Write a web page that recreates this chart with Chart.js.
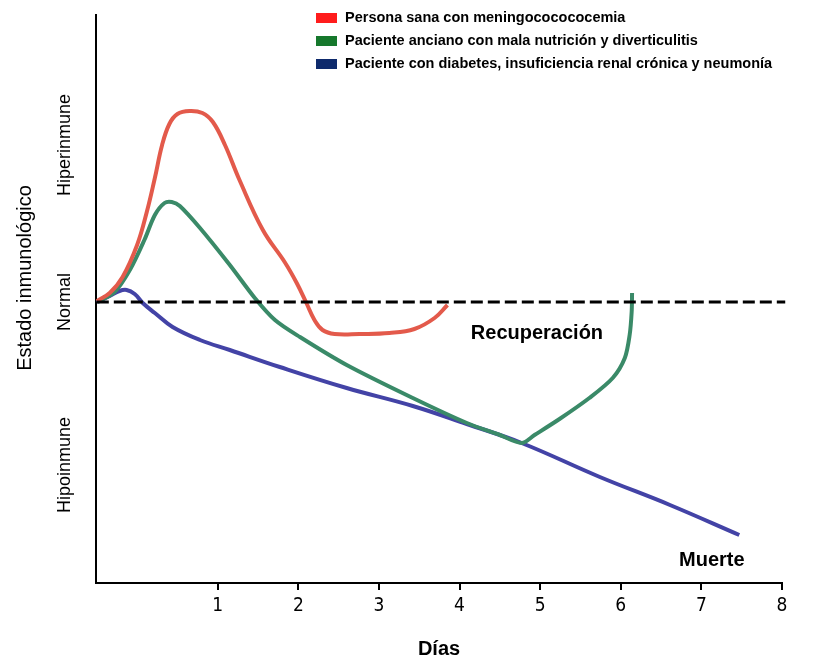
<!DOCTYPE html>
<html lang="es">
<head>
<meta charset="UTF-8">
<title>Estado inmunológico</title>
<script src="https://cdn.jsdelivr.net/npm/chart.js"></script>
<style>
  html, body { margin: 0; padding: 0; background: #fff; }
</style>
</head>
<body>
<canvas id="chart" width="814" height="669"></canvas>
<script>
// dias (x) y estado inmunologico (y, 0 = normal)
const redX = [-0.50, -0.34, -0.18, 0.00, 0.12, 0.22, 0.31, 0.40, 0.50, 0.65, 0.81, 0.94, 1.09, 1.27, 1.56, 1.83, 1.98, 2.10, 2.20, 2.30, 2.45, 2.76, 3.13, 3.44, 3.69, 3.85];
const redY = [0.01, 0.09, 0.25, 0.57, 0.90, 1.24, 1.57, 1.78, 1.88, 1.91, 1.89, 1.80, 1.57, 1.22, 0.72, 0.40, 0.19, -0.01, -0.18, -0.28, -0.32, -0.32, -0.31, -0.27, -0.16, -0.03];

const greenX = [-0.49, -0.28, -0.09, 0.09, 0.22, 0.34, 0.43, 0.53, 0.78, 1.15, 1.46, 1.71, 2.02, 2.60, 3.42, 4.09, 4.50, 4.77, 4.93, 5.24, 5.61, 5.90, 6.05, 6.11, 6.135, 6.14];
const greenY = [0.00, 0.10, 0.32, 0.62, 0.87, 0.99, 1.00, 0.96, 0.74, 0.37, 0.04, -0.18, -0.35, -0.63, -0.96, -1.21, -1.33, -1.41, -1.33, -1.17, -0.96, -0.76, -0.56, -0.33, -0.10, 0.09];

const blueX = [-0.50, -0.34, -0.22, -0.13, -0.03, 0.07, 0.22, 0.44, 0.78, 1.15, 1.77, 2.60, 3.42, 4.09, 4.77, 5.74, 6.61, 7.47];
const blueY = [0.00, 0.06, 0.11, 0.12, 0.08, -0.01, -0.11, -0.25, -0.38, -0.48, -0.65, -0.86, -1.04, -1.22, -1.41, -1.75, -2.03, -2.33];

const normalX = [-0.50, 8.04];
const normalY = [0, 0];

const seriesLabels = [
  'Persona sana con meningococococemia',
  'Paciente anciano con mala nutrición y diverticulitis',
  'Paciente con diabetes, insuficiencia renal crónica y neumonía'
];
const lineColors = ['#e35a4b', '#3a8a68', '#4343a6'];
const legendColors = ['#ff1c1c', '#16782c', '#0e2a6c'];
const lineTension = [0.4, 0.3, 0.4];

const xTicks = [1, 2, 3, 4, 5, 6, 7, 8];
const levelValues = [1.57, 0, -1.63];
const levelLabels = ['Hiperinmune', 'Normal', 'Hipoinmune'];

const noteTexts = ['Recuperación', 'Muerte'];
const noteX = [4.96, 7.13];
const noteY = [-0.31, -2.58];

const pts = (xs, ys) => xs.map((x, i) => ({ x: x, y: ys[i] }));

function curve(i, xs, ys) {
  return {
    label: seriesLabels[i],
    data: pts(xs, ys),
    borderColor: lineColors[i],
    borderWidth: 4,
    pointRadius: 0,
    tension: lineTension[i],
    fill: false,
    order: i + 1
  };
}

const textos = {
  id: 'textos',
  afterDraw(chart) {
    const ctx = chart.ctx;
    const x = chart.scales.x, y = chart.scales.y;
    ctx.save();
    ctx.fillStyle = '#000';
    ctx.textAlign = 'center';
    ctx.textBaseline = 'middle';

    // niveles del eje y
    ctx.font = '18px "Liberation Sans", Arial, sans-serif';
    levelLabels.forEach((t, i) => {
      ctx.save();
      ctx.translate(65, y.getPixelForValue(levelValues[i]));
      ctx.rotate(-Math.PI / 2);
      ctx.fillText(t, 0, 0);
      ctx.restore();
    });
    ctx.font = '20px "Liberation Sans", Arial, sans-serif';
    ctx.save();
    ctx.translate(25, 278);
    ctx.rotate(-Math.PI / 2);
    ctx.fillText('Estado inmunológico', 0, 0);
    ctx.restore();

    // Recuperacion / Muerte
    ctx.font = 'bold 20px "Liberation Sans", Arial, sans-serif';
    noteTexts.forEach((t, i) => {
      ctx.fillText(t, x.getPixelForValue(noteX[i]), y.getPixelForValue(noteY[i]));
    });

    // leyenda
    ctx.font = 'bold 14.5px "Liberation Sans", Arial, sans-serif';
    ctx.textAlign = 'left';
    seriesLabels.forEach((t, i) => {
      const rowY = 18 + 23 * i;
      ctx.fillStyle = legendColors[i];
      ctx.fillRect(316, rowY - 5, 21, 10);
      ctx.fillStyle = '#000';
      ctx.fillText(t, 345, rowY);
    });
    ctx.restore();
  }
};

new Chart(document.getElementById('chart'), {
  type: 'line',
  data: {
    datasets: [
      {
        label: 'Normal',
        data: pts(normalX, normalY),
        borderColor: '#000',
        borderWidth: 3,
        borderDash: [12, 5],
        pointRadius: 0,
        fill: false,
        clip: false,
        order: 0
      },
      curve(0, redX, redY),
      curve(1, greenX, greenY),
      curve(2, blueX, blueY)
    ]
  },
  options: {
    responsive: false,
    animation: false,
    layout: { padding: { top: 15, right: 32, left: 0, bottom: 0 } },
    plugins: { legend: { display: false }, tooltip: { enabled: false } },
    scales: {
      x: {
        type: 'linear',
        min: -0.51,
        max: 8,
        afterBuildTicks: s => { s.ticks = xTicks.map(v => ({ value: v })); },
        afterFit: s => { s.height = 86; },
        grid: { drawOnChartArea: false, drawTicks: true, tickLength: 7, color: '#000', lineWidth: 2 },
        border: { color: '#000', width: 2 },
        ticks: {
          color: '#000',
          autoSkip: false,
          maxRotation: 0,
          padding: 5,
          font: { family: '"DejaVu Sans Condensed", "DejaVu Sans", sans-serif', size: 19 }
        },
        title: {
          display: true,
          text: 'Días',
          color: '#000',
          padding: { top: 0, bottom: 8 },
          font: { family: '"Liberation Sans", Arial, sans-serif', size: 20, weight: 'bold' }
        }
      },
      y: {
        type: 'linear',
        min: -2.81,
        max: 2.87,
        afterFit: s => { s.width = 96; },
        ticks: { display: false },
        grid: { drawOnChartArea: false, drawTicks: false },
        border: { color: '#000', width: 2 }
      }
    }
  },
  plugins: [textos]
});
</script>
</body>
</html>
